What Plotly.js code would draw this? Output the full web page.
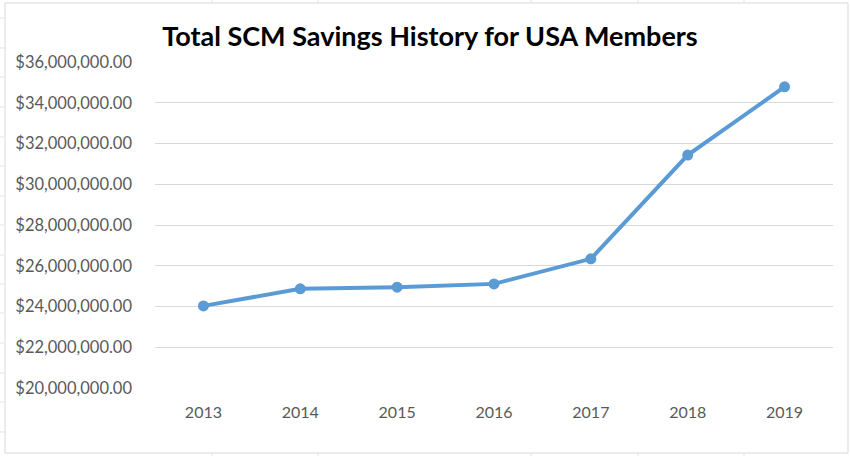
<!DOCTYPE html>
<html>
<head>
<meta charset="utf-8">
<script src="https://cdn.plot.ly/plotly-3.0.1.min.js"></script>
<style>
  html, body { margin: 0; padding: 0; background: #fff; }
  #chart { width: 850px; height: 456px; }
</style>
</head>
<body>
<div id="chart"></div>
<script>
// Yearly totals of SCM savings (USD)
const years = ['2013', '2014', '2015', '2016', '2017', '2018', '2019'];
const savings = [24030000, 24870000, 24950000, 25110000, 26340000, 31430000, 34780000];
const yTicks = [20000000, 22000000, 24000000, 26000000, 28000000, 30000000, 32000000, 34000000, 36000000];

const fmtMoney = v => '$' + v.toLocaleString('en-US', { minimumFractionDigits: 2, maximumFractionDigits: 2 });

const W = 850, H = 456;
const M = { l: 155, r: 17, t: 62, b: 68 };
const plotW = W - M.l - M.r, plotH = H - M.t - M.b;
// convert pixel positions on the page to paper fractions (for frame shapes)
const px = x => (x - M.l) / plotW;
const py = y => (H - M.b - y) / plotH;

const trace = {
  type: 'scatter',
  mode: 'lines+markers',
  x: years,
  y: savings,
  line: { color: '#5B9BD5', width: 4 },
  marker: { color: '#5B9BD5', size: 11 },
  hoverinfo: 'x+y'
};

// chart frame plus the faint spreadsheet cell borders peeking out around it
const cellLine = { color: '#E3E3E3', width: 1 };
const shapes = [
  { type: 'rect', xref: 'paper', yref: 'paper', x0: px(5), x1: px(848), y0: py(453), y1: py(3), line: { color: '#D9D9D9', width: 1 } }
];
[212, 318, 531, 638, 744].forEach(x => {
  shapes.push({ type: 'line', xref: 'paper', yref: 'paper', x0: px(x), x1: px(x), y0: py(0), y1: py(3), line: cellLine });
  shapes.push({ type: 'line', xref: 'paper', yref: 'paper', x0: px(x), x1: px(x), y0: py(453), y1: py(456), line: cellLine });
});
[18, 48, 77, 107, 137, 166, 196, 225, 255, 284, 313, 343, 373, 402, 432].forEach(y => {
  shapes.push({ type: 'line', xref: 'paper', yref: 'paper', x0: px(0), x1: px(5), y0: py(y), y1: py(y), line: cellLine });
});

const layout = {
  width: W,
  height: H,
  paper_bgcolor: '#ffffff',
  plot_bgcolor: '#ffffff',
  margin: M,
  showlegend: false,
  title: {
    text: '<b>Total SCM Savings History for USA Members</b>',
    font: { family: 'Lato, "Open Sans", sans-serif', size: 27, color: '#000000' },
    x: 430 / W,
    xanchor: 'center',
    xref: 'container',
    y: 1 - 37 / H,
    yanchor: 'middle'
  },
  xaxis: {
    type: 'category',
    range: [-0.5, 6.5],
    showgrid: false,
    showline: false,
    zeroline: false,
    ticks: '',
    ticklabelstandoff: 13,
    tickfont: { family: 'Lato, "Open Sans", sans-serif', size: 16, color: '#595959' },
    fixedrange: true
  },
  yaxis: {
    range: [20000000, 36000000],
    tickvals: yTicks,
    ticktext: yTicks.map(fmtMoney),
    showgrid: true,
    gridcolor: '#D9D9D9',
    gridwidth: 1,
    zeroline: false,
    showline: false,
    ticks: '',
    ticklabelstandoff: 22,
    tickfont: { family: 'Lato, "Open Sans", sans-serif', size: 16.5, color: '#595959' },
    fixedrange: true
  },
  shapes: shapes
};

Plotly.newPlot('chart', [trace], layout, { displayModeBar: false, staticPlot: true });
</script>
</body>
</html>
